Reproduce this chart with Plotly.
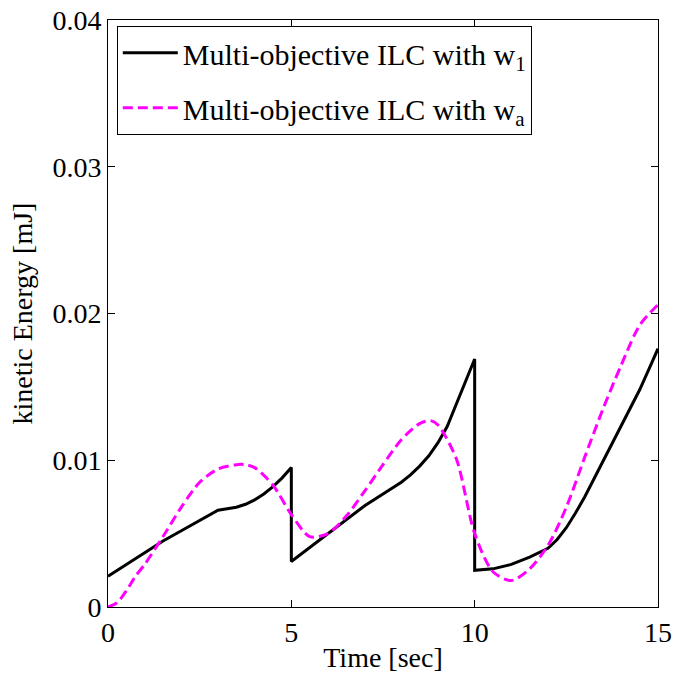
import plotly.graph_objects as go

t_w1 = [0, 0.5, 1, 1.5, 2, 2.5, 3, 3.25, 3.5, 3.75, 4, 4.25, 4.5, 4.75, 5.0,
        5.0, 6, 7, 7.5, 8, 8.25, 8.5, 8.75, 9, 9.25, 9.5, 9.75, 10.0,
        10.0, 10.5, 11, 11.5, 12, 12.25, 12.5, 12.75, 13, 13.25, 13.5, 13.75, 14, 14.25, 14.5, 14.75, 15]
e_w1 = [0.0021, 0.0029, 0.0037, 0.0045, 0.0052, 0.0059, 0.0066, 0.0067, 0.0068, 0.0070, 0.0073, 0.0077, 0.0082,
        0.0088, 0.0095,
        0.0031, 0.0050, 0.0069, 0.0077, 0.0085, 0.0090, 0.0096, 0.0103, 0.0112, 0.0123, 0.0138, 0.0153, 0.0169,
        0.0025, 0.0026, 0.0029, 0.0034, 0.0040, 0.0046, 0.0054, 0.0064, 0.0075, 0.0087, 0.0099, 0.0111, 0.0123,
        0.0135, 0.0148, 0.0162, 0.0176]

t_wa = [0, 0.25, 0.5, 0.75, 1, 1.5, 2, 2.5, 3, 3.5, 3.75, 4, 4.5, 5, 5.5, 6, 6.5, 7, 7.5, 8, 8.5, 8.8, 9, 9.5,
        10, 10.5, 11, 11.5, 12, 12.5, 13, 13.5, 14, 14.5, 15]
e_wa = [0, 0.0003, 0.0011, 0.0021, 0.0029, 0.0048, 0.0068, 0.0085, 0.0094, 0.0097, 0.0097, 0.0095, 0.0083, 0.0063,
        0.0048, 0.0050, 0.0062, 0.0079, 0.0097, 0.0114, 0.0125, 0.0127, 0.0124, 0.0101, 0.0050, 0.0024, 0.0018,
        0.0026, 0.0042, 0.0068, 0.0102, 0.0135, 0.0165, 0.0192, 0.0206]

x_ticks = [0, 5, 10, 15]
y_ticks = [0, 0.01, 0.02, 0.03, 0.04]
y_tick_labels = ["0", "0.01", "0.02", "0.03", "0.04"]

font = "Liberation Serif, Times New Roman, serif"

fig = go.Figure()
fig.add_trace(go.Scatter(x=t_w1, y=e_w1, mode="lines", name="Multi-objective ILC with w<sub>1</sub>",
                         legendgroup="a", line=dict(color="black", width=3)))
fig.add_trace(go.Scatter(x=t_wa, y=e_wa, mode="lines", name="Multi-objective ILC with w<sub>a</sub>",
                         legendgroup="b",
                         line=dict(color="#FF00FF", width=3, dash="10px,5px", shape="spline", smoothing=0.8)))

axis_common = dict(showgrid=False, zeroline=False, showline=True, linecolor="black", linewidth=1,
                   mirror="ticks", ticks="inside", ticklen=7, tickcolor="black", automargin=False,
                   tickfont=dict(family=font, size=28, color="black"))

fig.update_layout(
    width=673, height=679,
    margin=dict(l=108, r=15, t=20, b=72),
    plot_bgcolor="white", paper_bgcolor="white",
    font=dict(family=font, size=28, color="black"),
    xaxis=dict(range=[0, 15], tickvals=x_ticks, ticktext=[str(v) for v in x_ticks],
               title=dict(text="Time [sec]", font=dict(family=font, size=28), standoff=0), **axis_common),
    yaxis=dict(range=[0, 0.04], tickvals=y_ticks, ticktext=y_tick_labels,
               title=dict(text="kinetic Energy [mJ]", font=dict(family=font, size=28), standoff=11), **axis_common),
    legend=dict(x=0.016, y=0.99, xanchor="left", yanchor="top", bordercolor="black", borderwidth=1,
                bgcolor="white", font=dict(family=font, size=30), itemwidth=55, tracegroupgap=13),
)

fig.write_html("out.html")
